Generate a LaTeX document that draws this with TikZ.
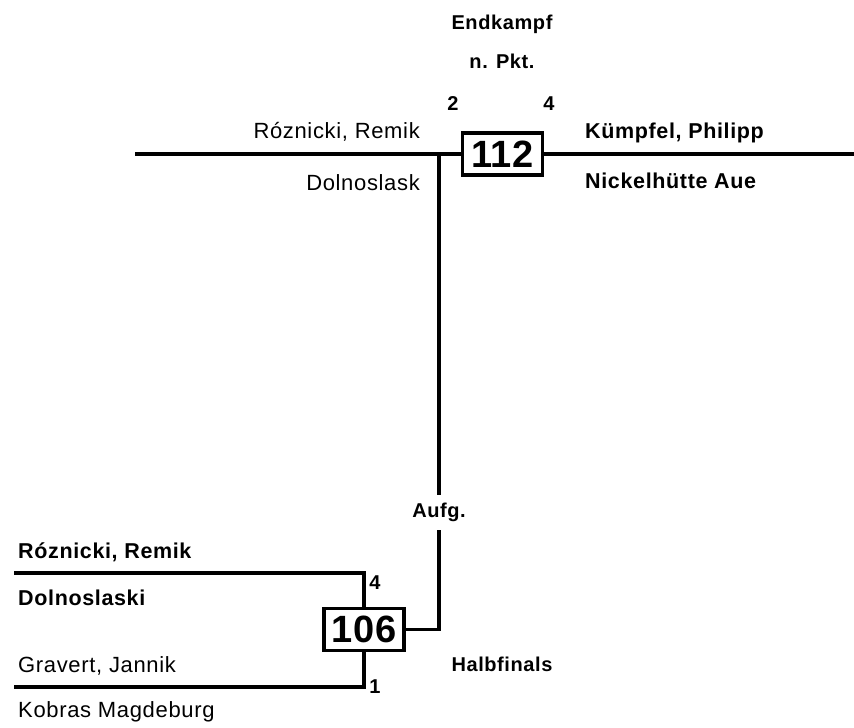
\documentclass[tikz,border=0pt]{standalone}
\usepackage{fontspec}
\setmainfont{Liberation Sans}[LetterSpace=3]
\newfontfamily\boutfont{Liberation Sans}[LetterSpace=2]

\tikzset{
  line/.style={line width=3.2pt},
  bout/.style={draw,line width=3.2pt,minimum width=80pt,minimum height=42pt,inner sep=0pt,
    font=\boutfont\fontsize{38}{38}\selectfont\bfseries},
  player/.style={inner sep=0pt,font=\fontsize{22}{22}\selectfont},
  winner/.style={inner sep=0pt,font=\fontsize{21.5}{21.5}\selectfont\bfseries},
  tag/.style={inner sep=0pt,anchor=base,font=\fontsize{20}{20}\selectfont\bfseries},
}

\begin{document}
\begin{tikzpicture}[x=1pt,y=-1pt]
  \useasboundingbox (0,0) rectangle (854,728);

  % Endkampf
  \node[tag] (E) at (502,29) {Endkampf};
  \node[tag] (N) at (502,68) {n. Pkt.};
  \node[tag] (S2) at (453,110) {2};
  \node[tag] (S4) at (549,110) {4};

  \node[bout] (M112) at (502.5,154) {112};
  \coordinate (L112) at (135,154);
  \coordinate (R112) at (854,154);
  \coordinate (J112) at (439,154);

  \node[player,anchor=base east] (P1) at (420,138) {Róznicki, Remik};
  \node[player,anchor=base east] (C1) at (420,190) {Dolnoslask};
  \node[winner,anchor=base west] (P2) at (585,138) {Kümpfel, Philipp};
  \node[winner,anchor=base west] (C2) at (585,188) {Nickelhütte Aue};

  \draw[line] (L112) -- (M112);
  \draw[line] (M112) -- (R112);

  % Halbfinals
  \node[tag,anchor=center,minimum height=35pt] (A) at (439,512.5) {Aufg.};
  \node[tag] (H) at (502,671) {Halbfinals};

  \node[bout] (M106) at (364,629.5) {106};
  \coordinate (T106) at (14,573);
  \coordinate (U106) at (14,687);

  \node[winner,anchor=base west] (P3) at (18,558) {Róznicki, Remik};
  \node[winner,anchor=base west] (C3) at (18,605) {Dolnoslaski};
  \node[player,anchor=base west] (P4) at (18,672) {Gravert, Jannik};
  \node[player,anchor=base west] (C4) at (18,717) {Kobras Magdeburg};
  \node[tag] (S5) at (375,589) {4};
  \node[tag] (S6) at (375,693) {1};

  \draw[line] (T106) -| (M106.north);
  \draw[line] (U106) -| (M106.south);

  \draw[line] (J112) -- (A.north);
  \draw[line] (A.south) |- (M106.east);

\end{tikzpicture}
\end{document}
